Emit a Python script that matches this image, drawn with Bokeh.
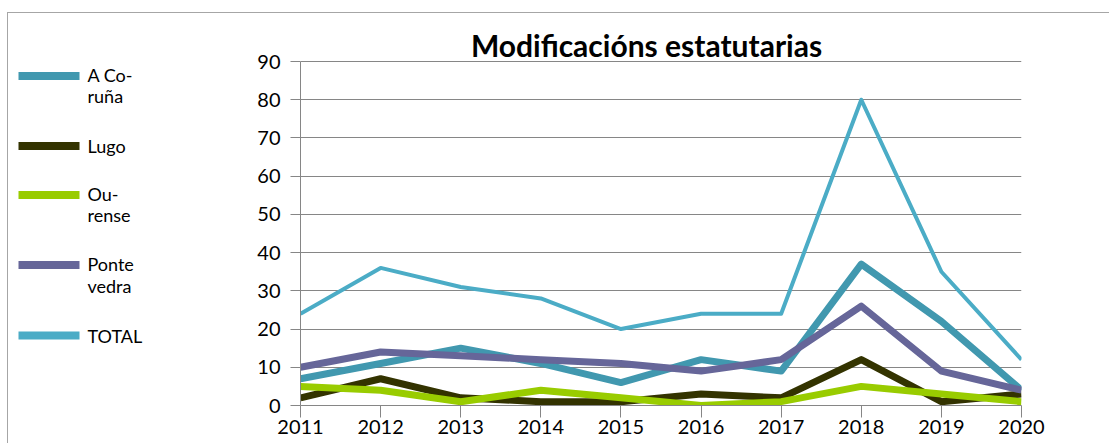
from bokeh.plotting import figure
from bokeh.layouts import row
from bokeh.models import FixedTicker, Range1d
from bokeh.core.properties import value
from bokeh.embed import file_html
from bokeh.resources import INLINE

years = [2011, 2012, 2013, 2014, 2015, 2016, 2017, 2018, 2019, 2020]
a_coruna = [7, 11, 15, 11, 6, 12, 9, 37, 22, 4]
lugo = [2, 7, 2, 1, 1, 3, 2, 12, 1, 3]
ourense = [5, 4, 1, 4, 2, 0, 1, 5, 3, 1]
pontevedra = [10, 14, 13, 12, 11, 9, 12, 26, 9, 4]
total = [24, 36, 31, 28, 20, 24, 24, 80, 35, 12]
y_ticks = [0, 10, 20, 30, 40, 50, 60, 70, 80, 90]
title_text = "Modificacións estatutarias"

series = [
    (["A Co-", "ruña"], a_coruna, "#4198AF", 7),
    (["Lugo"], lugo, "#333300", 7),
    (["Ou-", "rense"], ourense, "#99CC00", 7),
    (["Ponte", "vedra"], pontevedra, "#666699", 7),
    (["TOTAL"], total, "#4BACC6", 4),
]

FONT = "Lato"
# page layout (pixels)
OX, OY = 8, 13            # content origin inside the 1px border
SPLIT = 250               # legend panel | chart panel
FL, FR, FT90, FB = 300, 1021, 61, 405   # plot frame: left, right, y=90, y=0
PAGE_W, PAGE_H = 1109, 443
BASE_FIX = 0.36           # baseline correction (fraction of font size)

# ---------- legend panel ----------
LEG_FS = 18
leg = figure(width=SPLIT - OX, height=PAGE_H - OY, output_backend="svg",
             toolbar_location=None, x_axis_type=None, y_axis_type=None,
             x_range=Range1d(OX, SPLIT), y_range=Range1d(FB, OY),
             min_border=0, title=None)
leg.outline_line_color = None
leg.grid.visible = False
leg.background_fill_color = "white"
leg.border_fill_color = "white"

swatch_y = [75.5, 145.5, 194.5, 264.5, 335]
text_y = [[81, 102], [152], [200, 221], [270, 292], [342]]
for (labels, vals, color, lw), cy, tys in zip(series, swatch_y, text_y):
    leg.segment(x0=[18], y0=[cy], x1=[79], y1=[cy], line_color=color, line_width=8)
    leg.text(x=[87] * len(labels), y=[t - BASE_FIX * LEG_FS for t in tys], text=labels,
             text_font=value(FONT), text_font_size=f"{LEG_FS}px",
             text_baseline="alphabetic", text_align="left", text_color="black")

# ---------- chart panel ----------
y_top = (FB - OY) * 90 / (FB - FT90)
p = figure(width=PAGE_W - SPLIT, height=PAGE_H - OY, output_backend="svg",
           toolbar_location=None,
           x_range=Range1d(2011, 2020), y_range=Range1d(0, y_top),
           min_border_left=FL - SPLIT, min_border_right=PAGE_W - FR,
           min_border_top=0, min_border_bottom=PAGE_H - FB, title=None)
p.outline_line_color = None
p.background_fill_color = "white"
p.border_fill_color = "white"

for labels, vals, color, lw in series:
    p.line(years, vals, line_color=color, line_width=lw, line_join="round")

p.xaxis.ticker = FixedTicker(ticks=years)
p.yaxis.ticker = FixedTicker(ticks=y_ticks)
p.yaxis.bounds = (y_ticks[0], y_ticks[-1])
for ax in (p.xaxis, p.yaxis):
    ax.axis_line_color = "#868686"
    ax.major_tick_line_color = "#868686"
    ax.minor_tick_line_color = None
    ax.major_label_text_font = FONT
    ax.major_label_text_font_size = "20px"
    ax.major_label_text_color = "black"
    ax.major_tick_in = 0
p.xaxis.major_tick_out = 12
p.yaxis.major_tick_out = 10
p.xaxis.major_label_standoff = 2
p.yaxis.major_label_standoff = 10
p.xgrid.grid_line_color = None
p.ygrid.grid_line_color = "#868686"
p.ygrid.grid_line_width = 1

# title placed through the chart's scales
TITLE_FS = 30
tx = 2011 + 9 * (646 - FL) / (FR - FL)
ty_pix = 55 - BASE_FIX * TITLE_FS
ty = (FB - ty_pix) * 90 / (FB - FT90)
p.text(x=[tx], y=[ty], text=[title_text], text_font=value(FONT),
       text_font_style="bold", text_font_size=f"{TITLE_FS}px", text_align="center",
       text_baseline="alphabetic", text_color="black")

layout = row(leg, p, spacing=0)
layout.margin = (12, 0, 0, 7)
layout.styles = {"border-top": "1px solid #a6a6a6", "border-left": "1px solid #a6a6a6"}

open("out.html", "w").write(file_html(layout, INLINE))
